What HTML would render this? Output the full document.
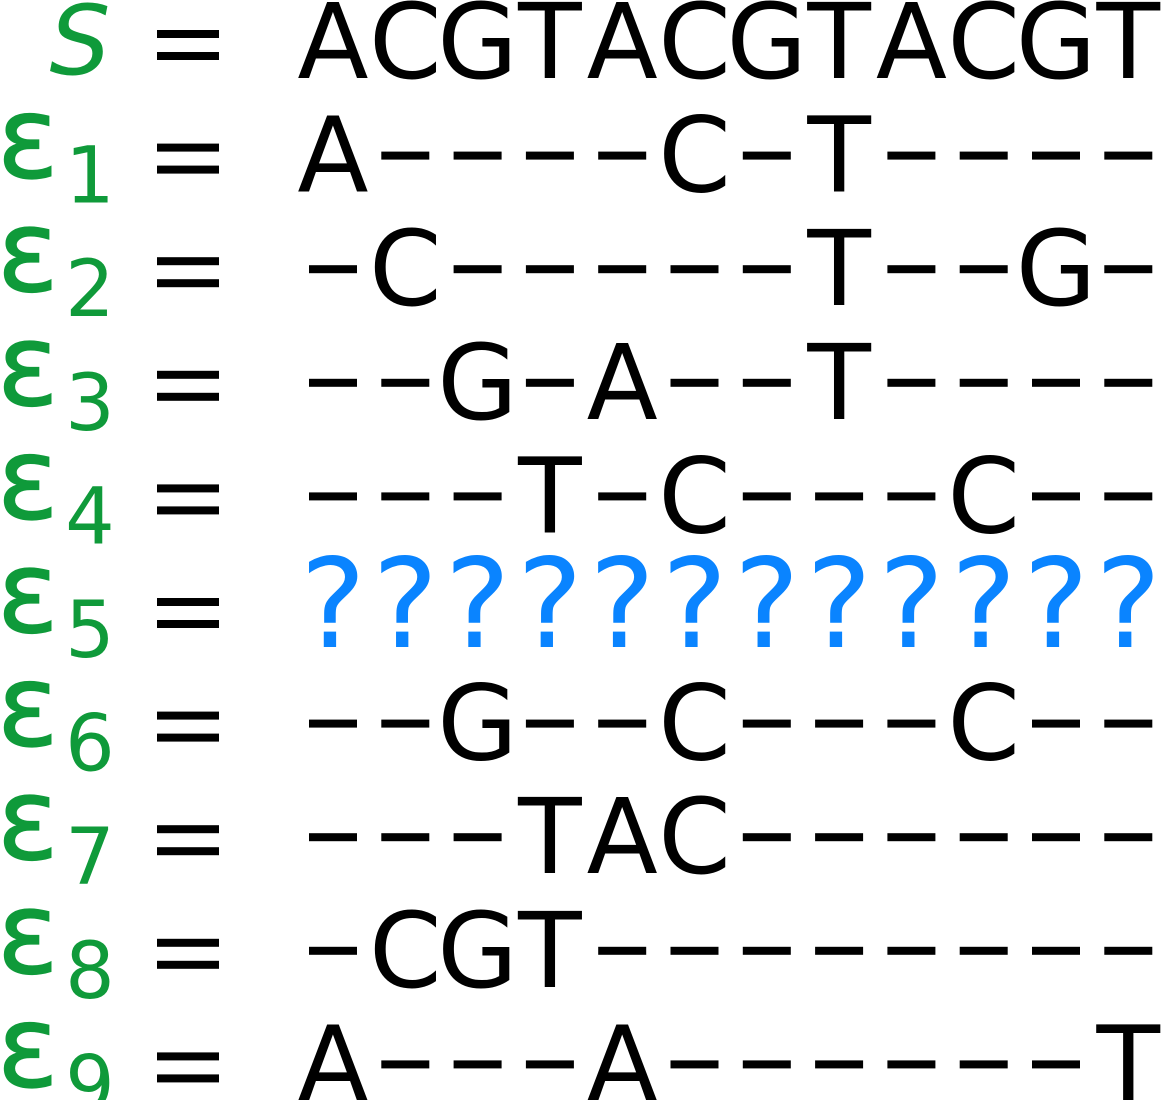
<!DOCTYPE html>
<html><head><meta charset="utf-8"><style>
html,body{margin:0;padding:0;background:#fff;}
svg{display:block;}
text{font-family:"DejaVu Sans","Liberation Sans",sans-serif;}
</style></head><body>
<svg id="fig" width="1164" height="1100" viewBox="0 0 1164 1100" xmlns="http://www.w3.org/2000/svg"></svg>
<script>
const rows = ["ACGTACGTACGT","A----C-T----","-C-----T--G-","--G-A--T----","---T-C---C--","????????????","--G--C---C--","---TAC------","-CGT--------","A---A------T"];
const labels = ["S","1","2","3","4","5","6","7","8","9"];
const svg = document.getElementById('fig');
const NS = 'http://www.w3.org/2000/svg';
const green = '#0f9a3a';
function mk(tag, attrs){const e=document.createElementNS(NS,tag);for(const k in attrs)e.setAttribute(k,attrs[k]);svg.appendChild(e);return e;}
rows.forEach((r,i)=>{
  const base = 78 + 113.6*i;
  if(i===0){
    const t = mk('text',{x:80,y:base-4,'text-anchor':'middle','font-size':96,fill:green,'font-style':'italic','font-family':'"Liberation Serif",serif'});
    t.textContent='S';
    
    
  } else {
    const e = mk('text',{x:-3,y:base-14,'font-size':114,fill:green,'stroke':green,'stroke-width':1.2});
    e.textContent='ε';
    
    
    const s = mk('text',{x:90,y:base+11,'text-anchor':'middle','font-size':78,fill:green});
    s.textContent=labels[i];
    
    
  }
  const eq1 = mk('rect',{x:157,y:base-48,width:62,height:8,fill:'#000'});
  
  
  mk('rect',{x:157,y:base-26,width:62,height:8,fill:'#000'});
  for(let j=0;j<12;j++){
    const c = r[j]; const cx = 333 + 72.3*j;
    if(c==='-'){
      const d = mk('rect',{x:cx-24,y:base-40,width:48,height:8,fill:'#000'});
      
      
    } else {
      const q = c==='?';
      const t = mk('text',{x:cx,y:base+(q?1:0),'text-anchor':'middle','font-size':q?124:104,fill:q?'#0a84ff':'#000'});
      t.textContent=c;
      
      
    }
  }
});
</script>
</body></html>
